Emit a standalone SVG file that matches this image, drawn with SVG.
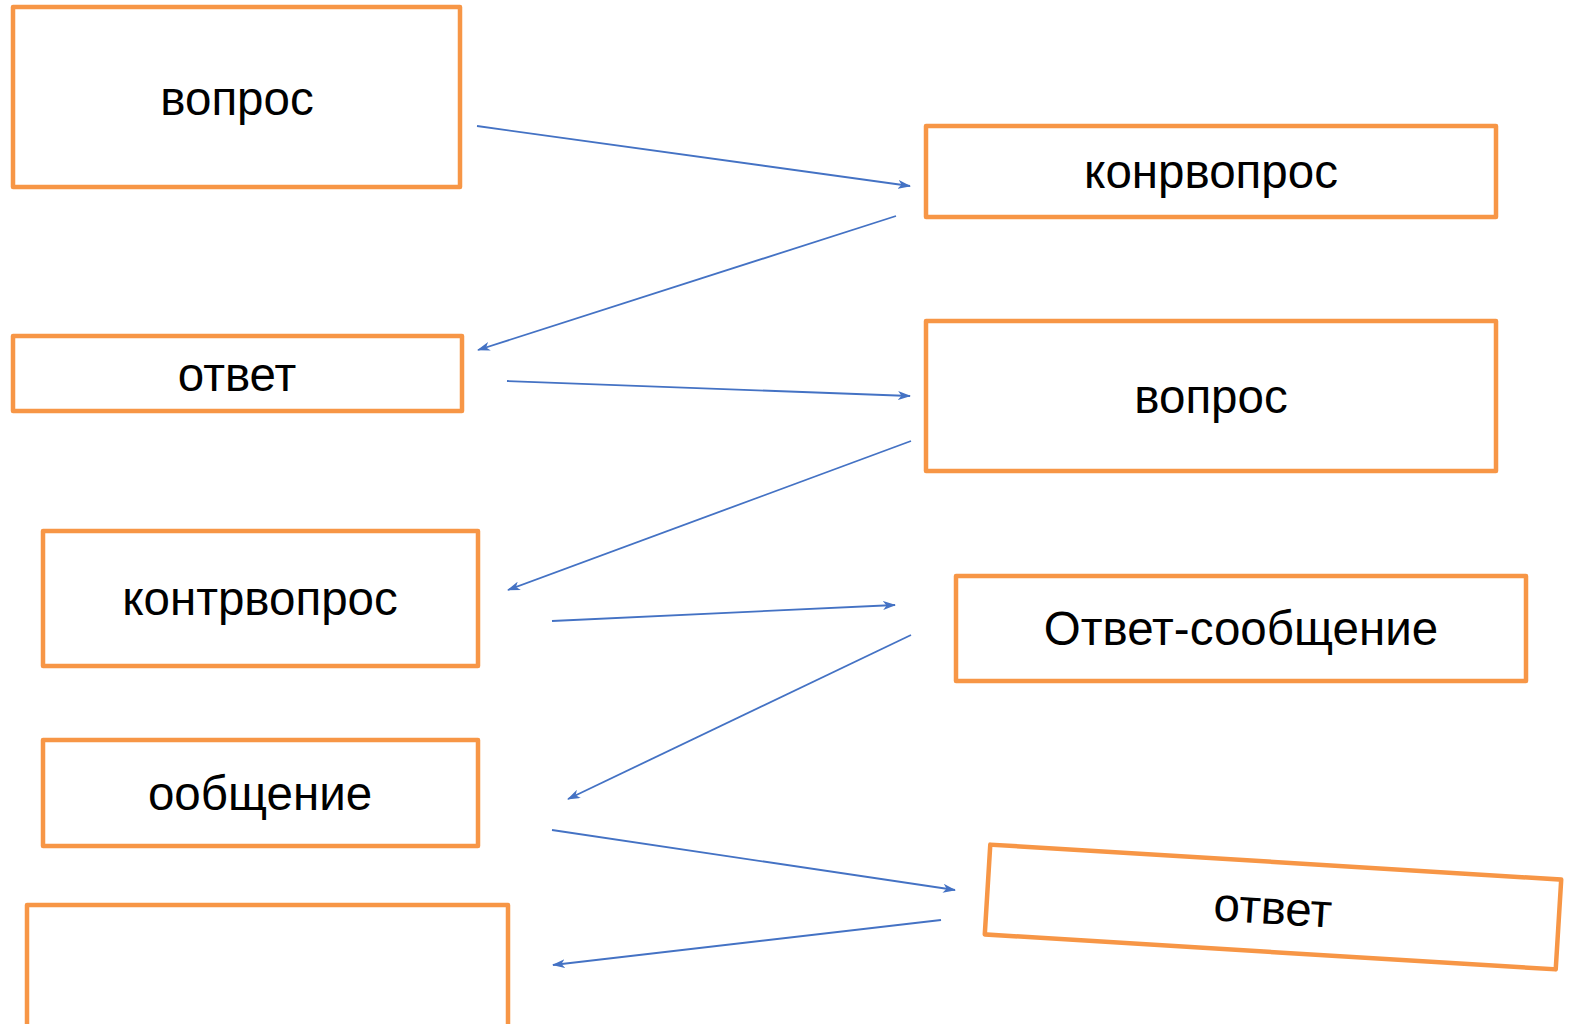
<svg xmlns="http://www.w3.org/2000/svg" width="1571" height="1024" viewBox="0 0 1571 1024">
<style>
.box{fill:#fff;stroke:#F79646;stroke-width:4.5;stroke-linejoin:round}
.lbl{font-family:"Liberation Sans",Arial,sans-serif;font-size:47.5px;fill:#000;text-anchor:middle}
.con{stroke:#4472C4;stroke-width:1.8;fill:none;marker-end:url(#ah)}
</style>
<defs>
<marker id="ah" viewBox="0 0 13 9" refX="12" refY="4.5" markerWidth="13" markerHeight="9" markerUnits="userSpaceOnUse" orient="auto">
<path d="M0,0 L13,4.5 L0,9 L3.5,4.5 z" fill="#4472C4"/>
</marker>
</defs>
<rect width="1571" height="1024" fill="#fff"/>
<g id="n1"><rect class="box" x="13" y="7" width="447" height="180"/><text class="lbl" x="237" y="115">вопрос</text></g>
<g id="n2"><rect class="box" x="926" y="126" width="570" height="91"/><text class="lbl" x="1211" y="188">конрвопрос</text></g>
<g id="n3"><rect class="box" x="13" y="336" width="449" height="75"/><text class="lbl" x="237" y="391">ответ</text></g>
<g id="n4"><rect class="box" x="926" y="321" width="570" height="150"/><text class="lbl" x="1211" y="413">вопрос</text></g>
<g id="n5"><rect class="box" x="43" y="531" width="435" height="135"/><text class="lbl" x="260" y="615">контрвопрос</text></g>
<g id="n6"><rect class="box" x="956" y="576" width="570" height="105"/><text class="lbl" x="1241" y="645">Ответ-сообщение</text></g>
<g id="n7"><rect class="box" x="43" y="740" width="435" height="106"/><text class="lbl" x="260" y="810">ообщение</text></g>
<g id="n8"><rect class="box" x="27" y="905" width="481" height="140"/></g>
<g id="n9" transform="translate(1273,907) rotate(3.5)"><rect class="box" x="-286" y="-45" width="572" height="90"/><text class="lbl" x="0" y="17">ответ</text></g>
<g id="connectors">
<line class="con" x1="477" y1="126" x2="910" y2="186"/>
<line class="con" x1="896" y1="216" x2="478" y2="350"/>
<line class="con" x1="507" y1="381" x2="910" y2="396"/>
<line class="con" x1="911" y1="441" x2="508" y2="590"/>
<line class="con" x1="552" y1="621" x2="895" y2="605"/>
<line class="con" x1="911" y1="635" x2="568" y2="799"/>
<line class="con" x1="552" y1="830" x2="955" y2="890"/>
<line class="con" x1="941" y1="920" x2="553" y2="965"/>
</g>
</svg>
